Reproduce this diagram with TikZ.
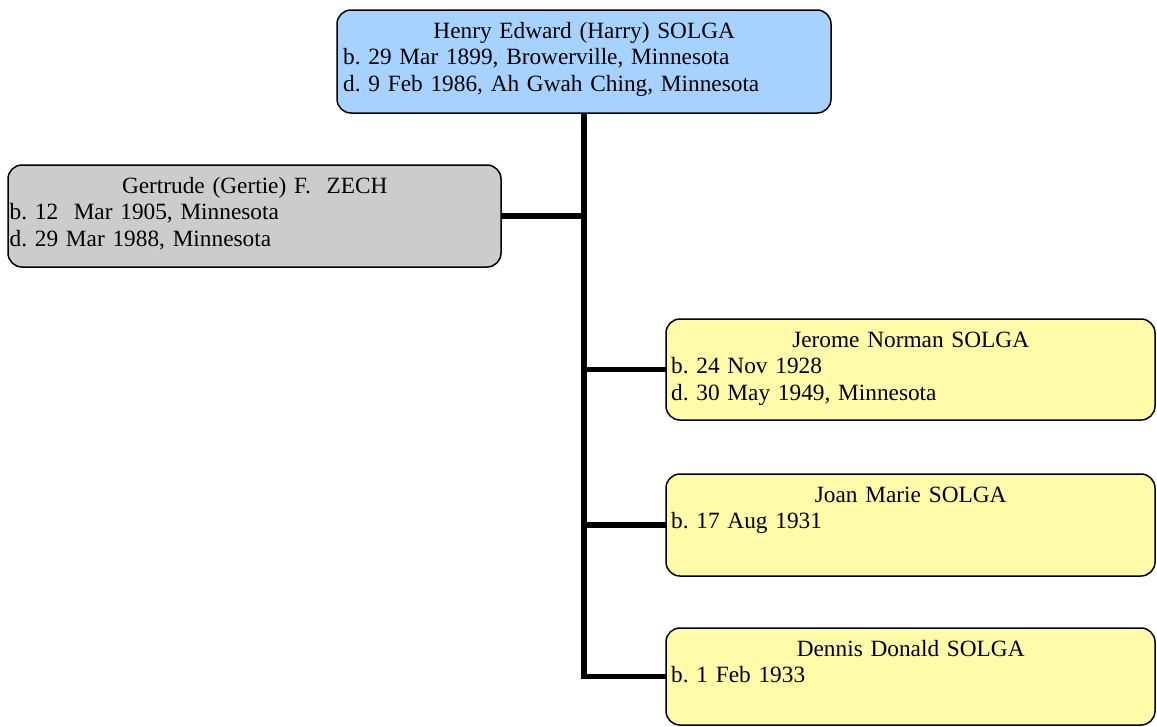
\documentclass[tikz,border=0pt]{standalone}
\usepackage{fontspec}
\setmainfont{Liberation Serif}
\frenchspacing
\definecolor{boxblue}{RGB}{166,210,255}
\definecolor{boxgray}{RGB}{204,204,204}
\definecolor{boxyellow}{RGB}{255,251,168}
\newcommand\ctrline[2]{\makebox[#1][c]{\strut #2}}
\begin{document}
\begin{tikzpicture}[x=1pt,y=-1pt,
  pbox/.style={draw=black, line width=1.5pt, rounded corners=14pt, anchor=north west, inner sep=0pt, outer sep=0pt},
  txt/.style={anchor=north west, inner sep=0pt, align=left, font=\fontsize{23.3}{26.5}\selectfont},
  link/.style={line width=5.5pt, line join=miter}]
\useasboundingbox (0,0) rectangle (1157,726);
% boxes
\node[pbox, fill=boxblue, minimum width=494pt, minimum height=103pt] (henry) at (337,10) {};
\node[pbox, fill=boxgray, minimum width=493pt, minimum height=102pt] (gertie) at (8,165) {};
\node[pbox, fill=boxyellow, minimum width=489pt, minimum height=101pt] (jerome) at (666,319) {};
\node[pbox, fill=boxyellow, minimum width=489pt, minimum height=102pt] (joan) at (666,474) {};
\node[pbox, fill=boxyellow, minimum width=489pt, minimum height=97pt] (dennis) at (666,628) {};
% texts
\node[txt, text width=482pt] (henryT) at (343,19.45) {\ctrline{482pt}{Henry Edward (Harry) SOLGA}\\b. 29 Mar 1899, Browerville, Minnesota\\d. 9 Feb 1986, Ah Gwah Ching, Minnesota};
\node[txt, text width=490pt] (gertieT) at (9.5,174.45) {\ctrline{490pt}{Gertrude (Gertie) F.~~ZECH}\\b. 12~~Mar 1905, Minnesota\\d. 29 Mar 1988, Minnesota};
\node[txt, text width=479pt] (jeromeT) at (671,328.45) {\ctrline{479pt}{Jerome Norman SOLGA}\\b. 24 Nov 1928\\d. 30 May 1949, Minnesota};
\node[txt, text width=479pt] (joanT) at (671,483.45) {\ctrline{479pt}{Joan Marie SOLGA}\\b. 17 Aug 1931};
\node[txt, text width=479pt] (dennisT) at (671,637.45) {\ctrline{479pt}{Dennis Donald SOLGA}\\b. 1 Feb 1933};
% connectors
\draw[link] (henry.south) -- (henry.south |- dennis.west) -- (dennis.west);
\draw[link] (gertie.east) -- (gertie.east -| henry.south);
\draw[link] (jerome.west) -- (jerome.west -| henry.south);
\draw[link] (joan.west) -- (joan.west -| henry.south);
\end{tikzpicture}
\end{document}
